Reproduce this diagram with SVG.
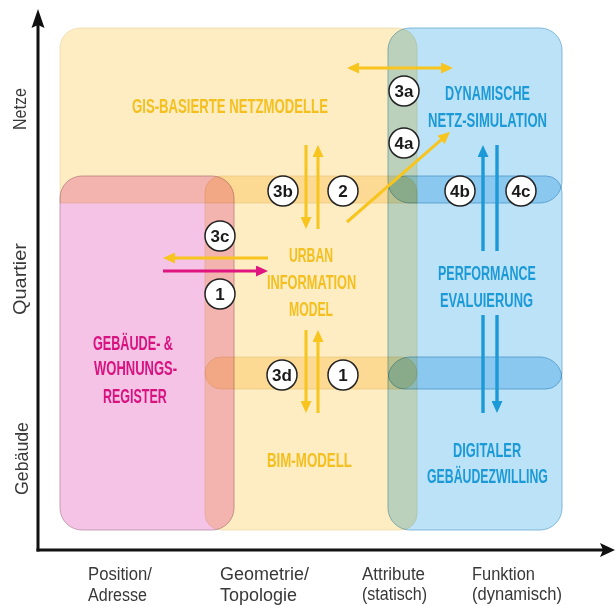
<svg xmlns="http://www.w3.org/2000/svg" width="615" height="606" viewBox="0 0 615 606">
  <style>
    .area { mix-blend-mode: multiply; stroke-width: 0.8; }
    .yel { fill: #feecc2; stroke: #e8d3a0; stroke-width: 0.6; }
    .blu { fill: #bce2f7; stroke: #6aaad0; }
    .pnk { fill: #f4c3e6; stroke: #b98ca4; }
    .lbl { font-family: "Liberation Sans", Arial, sans-serif; font-weight: bold; font-size: 20px; }
    .ly { fill: #f4c020; }
    .lb { fill: #1b9ad7; }
    .lm { fill: #d8127f; }
    .axis-txt { font-family: "Liberation Sans", Arial, sans-serif; font-size: 18px; fill: #383838; }
    .arr { fill: none; stroke-width: 3; }
    .ay { stroke: #f7c51e; }
    .ab { stroke: #1b9ad7; stroke-width: 3.4; }
    .am { stroke: #e0157f; }
    .badge circle { fill: #fff; stroke: #222; stroke-width: 1.5; }
    .badge text { font-family: "Liberation Sans", Arial, sans-serif; font-weight: bold; font-size: 17px; fill: #1a1a1a; text-anchor: middle; }
  </style>
  <defs>
    <marker id="head-y" markerUnits="userSpaceOnUse" markerWidth="13" markerHeight="11" refX="2" refY="5.5" orient="auto-start-reverse">
      <path d="M0,0 L12,5.5 L0,11 z" fill="#f7c51e"/>
    </marker>
    <marker id="head-b" markerUnits="userSpaceOnUse" markerWidth="13" markerHeight="11" refX="2" refY="5.5" orient="auto-start-reverse">
      <path d="M0,0 L12,5.5 L0,11 z" fill="#1b9ad7"/>
    </marker>
    <marker id="head-m" markerUnits="userSpaceOnUse" markerWidth="13" markerHeight="11" refX="2" refY="5.5" orient="auto-start-reverse">
      <path d="M0,0 L12,5.5 L0,11 z" fill="#e0157f"/>
    </marker>
  </defs>

  <rect x="0" y="0" width="615" height="606" fill="#ffffff"/>

  <!-- coloured model areas (multiplied so overlaps darken) -->
  <g id="gis">
    <path class="area yel" d="M60,203 V48 A20,20 0 0 1 80,28 H397 A20,20 0 0 1 417,48 V203 Z"/>
  </g>
  <g id="urban">
    <rect class="area yel" x="205" y="176" width="212" height="213" rx="16"/>
  </g>
  <g id="bim">
    <rect class="area yel" x="205" y="357" width="212" height="173" rx="16"/>
  </g>
  <g id="netzsim">
    <rect class="area blu" x="388" y="28" width="174" height="175" rx="22"/>
  </g>
  <g id="performance">
    <rect class="area blu" x="388" y="176" width="174" height="213" rx="16"/>
  </g>
  <g id="zwilling">
    <rect class="area blu" x="388" y="357" width="174" height="173" rx="22"/>
  </g>
  <g id="register">
    <rect class="area pnk" x="60" y="176" width="174" height="354" rx="22"/>
  </g>

  <!-- area labels (condensed by horizontal scaling) -->
  <g id="labels" class="lbl">
    <text class="ly" transform="translate(132,113) scale(0.62,1)" textLength="316" lengthAdjust="spacingAndGlyphs">GIS-BASIERTE NETZMODELLE</text>
    <text class="lb" transform="translate(445,100) scale(0.62,1)" textLength="137" lengthAdjust="spacingAndGlyphs">DYNAMISCHE</text>
    <text class="lb" transform="translate(428,127) scale(0.62,1)" textLength="192" lengthAdjust="spacingAndGlyphs">NETZ-SIMULATION</text>
    <text class="ly" transform="translate(289,262) scale(0.62,1)" textLength="71" lengthAdjust="spacingAndGlyphs">URBAN</text>
    <text class="ly" transform="translate(267,289) scale(0.62,1)" textLength="144" lengthAdjust="spacingAndGlyphs">INFORMATION</text>
    <text class="ly" transform="translate(289,316) scale(0.62,1)" textLength="71" lengthAdjust="spacingAndGlyphs">MODEL</text>
    <text class="lb" transform="translate(438,280) scale(0.62,1)" textLength="158" lengthAdjust="spacingAndGlyphs">PERFORMANCE</text>
    <text class="lb" transform="translate(440,307) scale(0.62,1)" textLength="150" lengthAdjust="spacingAndGlyphs">EVALUIERUNG</text>
    <text class="lm" transform="translate(93,350) scale(0.62,1)" textLength="129" lengthAdjust="spacingAndGlyphs">GEBÄUDE- &amp;</text>
    <text class="lm" transform="translate(94,375) scale(0.62,1)" textLength="134" lengthAdjust="spacingAndGlyphs">WOHNUNGS-</text>
    <text class="lm" transform="translate(103,403) scale(0.62,1)" textLength="103" lengthAdjust="spacingAndGlyphs">REGISTER</text>
    <text class="ly" transform="translate(267,467) scale(0.62,1)" textLength="137" lengthAdjust="spacingAndGlyphs">BIM-MODELL</text>
    <text class="lb" transform="translate(453,457) scale(0.62,1)" textLength="110" lengthAdjust="spacingAndGlyphs">DIGITALER</text>
    <text class="lb" transform="translate(427,483) scale(0.62,1)" textLength="195" lengthAdjust="spacingAndGlyphs">GEBÄUDEZWILLING</text>
  </g>

  <!-- axes -->
  <g id="axes">
    <line x1="38" y1="24" x2="38" y2="551.5" stroke="#111" stroke-width="3"/>
    <polygon points="38,9 44.5,28 38,25 31.5,28" fill="#111"/>
    <line x1="36.5" y1="550" x2="604" y2="550" stroke="#111" stroke-width="3"/>
    <polygon points="615,550 600,543 603,550 600,557" fill="#111"/>
    <g class="axis-txt">
      <text transform="translate(26,130) rotate(-90)" textLength="42" lengthAdjust="spacingAndGlyphs">Netze</text>
      <text transform="translate(26,315) rotate(-90)" textLength="72" lengthAdjust="spacingAndGlyphs">Quartier</text>
      <text transform="translate(28,495) rotate(-90)" textLength="73" lengthAdjust="spacingAndGlyphs">Gebäude</text>
      <text x="88" y="580" textLength="64" lengthAdjust="spacingAndGlyphs">Position/</text>
      <text x="88" y="601" textLength="59" lengthAdjust="spacingAndGlyphs">Adresse</text>
      <text x="220" y="580" textLength="89" lengthAdjust="spacingAndGlyphs">Geometrie/</text>
      <text x="220" y="601" textLength="77" lengthAdjust="spacingAndGlyphs">Topologie</text>
      <text x="362" y="580" textLength="63" lengthAdjust="spacingAndGlyphs">Attribute</text>
      <text x="362" y="600" textLength="65" lengthAdjust="spacingAndGlyphs">(statisch)</text>
      <text x="472" y="580" textLength="63" lengthAdjust="spacingAndGlyphs">Funktion</text>
      <text x="472" y="600" textLength="90" lengthAdjust="spacingAndGlyphs">(dynamisch)</text>
    </g>
  </g>

  <!-- data flows between the models -->
  <g id="connectors">
    <line class="arr ay" x1="357" y1="68" x2="443" y2="68" marker-start="url(#head-y)" marker-end="url(#head-y)"/>
    <line class="arr ay" x1="347" y1="222" x2="442.5" y2="138.6" marker-end="url(#head-y)"/>
    <line class="arr ay" x1="306" y1="145" x2="306" y2="219" marker-end="url(#head-y)"/>
    <line class="arr ay" x1="318" y1="229" x2="318" y2="155" marker-end="url(#head-y)"/>
    <line class="arr ay" x1="268" y1="258" x2="173" y2="258" marker-end="url(#head-y)"/>
    <line class="arr am" x1="163" y1="271" x2="258" y2="271" marker-end="url(#head-m)"/>
    <line class="arr ay" x1="306" y1="330" x2="306" y2="403" marker-end="url(#head-y)"/>
    <line class="arr ay" x1="318" y1="413" x2="318" y2="340" marker-end="url(#head-y)"/>
    <line class="arr ab" x1="483" y1="251" x2="483" y2="155" marker-end="url(#head-b)"/>
    <line class="arr ab" x1="497" y1="145" x2="497" y2="251"/>
    <line class="arr ab" x1="483" y1="315" x2="483" y2="413"/>
    <line class="arr ab" x1="497" y1="315" x2="497" y2="403" marker-end="url(#head-b)"/>
  </g>

  <!-- numbered flow markers -->
  <g id="badges" class="badge">
    <g id="b-3a"><circle cx="404" cy="91" r="15"/><text x="404" y="97">3a</text></g>
    <g id="b-4a"><circle cx="404" cy="143" r="15"/><text x="404" y="149">4a</text></g>
    <g id="b-4b"><circle cx="460" cy="191" r="15"/><text x="460" y="197">4b</text></g>
    <g id="b-4c"><circle cx="521" cy="191" r="15"/><text x="521" y="197">4c</text></g>
    <g id="b-2"><circle cx="343" cy="191" r="15"/><text x="343" y="197">2</text></g>
    <g id="b-3b"><circle cx="283" cy="191" r="15"/><text x="283" y="197">3b</text></g>
    <g id="b-3c"><circle cx="220" cy="236" r="15"/><text x="220" y="242">3c</text></g>
    <g id="b-1a"><circle cx="220" cy="294" r="15"/><text x="220" y="300">1</text></g>
    <g id="b-3d"><circle cx="282" cy="375" r="15"/><text x="282" y="381">3d</text></g>
    <g id="b-1b"><circle cx="343" cy="375" r="15"/><text x="343" y="381">1</text></g>
  </g>
</svg>
